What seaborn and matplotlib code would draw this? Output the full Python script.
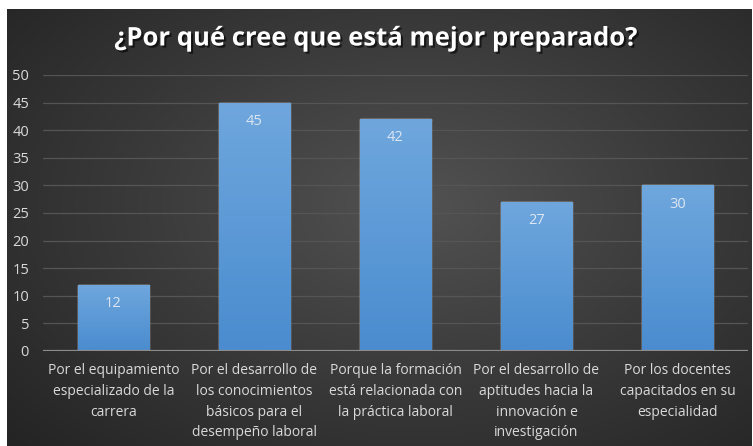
import numpy as np
import pandas as pd
import matplotlib
matplotlib.use("Agg")
import matplotlib.pyplot as plt
import matplotlib.patheffects as pe
from matplotlib.colors import LinearSegmentedColormap
import seaborn as sns

# datos del gráfico
categorias = [
    "Por el equipamiento\nespecializado de la\ncarrera",
    "Por el desarrollo de\nlos conocimientos\nbásicos para el\ndesempeño laboral",
    "Porque la formación\nestá relacionada con\nla práctica laboral",
    "Por el desarrollo de\naptitudes hacia la\ninnovación e\ninvestigación",
    "Por los docentes\ncapacitados en su\nespecialidad",
]
valores = [12, 45, 42, 27, 30]
titulo = "¿Por qué cree que está mejor preparado?"

sns.set_style("dark")
plt.rcParams['font.family'] = ['Open Sans', 'DejaVu Sans']

fig = plt.figure(figsize=(7.53, 4.46), dpi=100)
fig.patch.set_facecolor("white")

# fondo con degradado radial
bg = fig.add_axes([7 / 753, 0, 745 / 753, 437 / 446])
bg.set_axis_off()
yy, xx = np.mgrid[0:1:300j, 0:1:500j]
r = np.sqrt(((xx - 0.55) / 0.75) ** 2 + ((yy - 0.45) / 0.8) ** 2)
cmap_bg = LinearSegmentedColormap.from_list("bg", ["#525252", "#3a3a3a", "#242424"])
bg.imshow(np.clip(r, 0, 1), cmap=cmap_bg, aspect="auto", extent=[0, 1, 0, 1], vmin=0, vmax=1)
bg.set_xlim(0, 1)
bg.set_ylim(0, 1)

ax = fig.add_axes([43 / 753, 95 / 446, 705 / 753, 276 / 446])
ax.patch.set_alpha(0)

df = pd.DataFrame({"categoria": categorias, "valor": valores})
sns.barplot(data=df, x="categoria", y="valor", color="#5b9bd5", width=0.51, ax=ax, zorder=3)

# degradado en las barras
cmap_bar = LinearSegmentedColormap.from_list("bar", ["#4a8ccf", "#6fa7dd"])
grad = np.linspace(0, 1, 256).reshape(-1, 1)
for p in list(ax.patches):
    x0, y0 = p.get_x(), p.get_y()
    w, h = p.get_width(), p.get_height()
    sh = plt.Rectangle((x0 + 0.012, y0), w, h - 0.25, facecolor="black", alpha=0.25, zorder=2.5, lw=0)
    ax.add_patch(sh)
    im = ax.imshow(grad, cmap=cmap_bar, origin="lower", aspect="auto",
                   extent=[x0, x0 + w, y0, y0 + h], zorder=3.5)
    im.set_clip_path(p)

for i, v in enumerate(valores):
    ax.text(i, v - 3.4, str(v), ha="center", va="center", color="#dce6f2", fontsize=10.5, zorder=5)

ax.set_xlim(-0.5, len(categorias) - 0.5)
ax.set_ylim(0, 50)
ax.set_yticks(range(0, 51, 5))
ax.set_xlabel("")
ax.set_ylabel("")
ax.grid(axis="y", color="#555555", lw=0.9, zorder=0)
ax.grid(axis="x", visible=False)
for s in ax.spines.values():
    s.set_visible(False)
ax.axhline(0, color="#8c8c8c", lw=1.6, zorder=4)
ax.tick_params(axis="y", colors="#d9d9d9", labelsize=10.5, length=0, pad=10)
ax.tick_params(axis="x", colors="#d9d9d9", labelsize=10, length=0, pad=9)
for t in ax.get_xticklabels():
    t.set_ha("center")
    t.set_multialignment("center")
    t.set_linespacing(1.5)

fig.text(0.5, 1 - 38 / 446, titulo, ha="center", va="center", color="white",
         fontsize=18.5, fontweight="bold",
         path_effects=[pe.withSimplePatchShadow(offset=(1.5, -1.5), shadow_rgbFace="black", alpha=0.6)])

fig.savefig("out.png", dpi=100, facecolor=fig.get_facecolor())
